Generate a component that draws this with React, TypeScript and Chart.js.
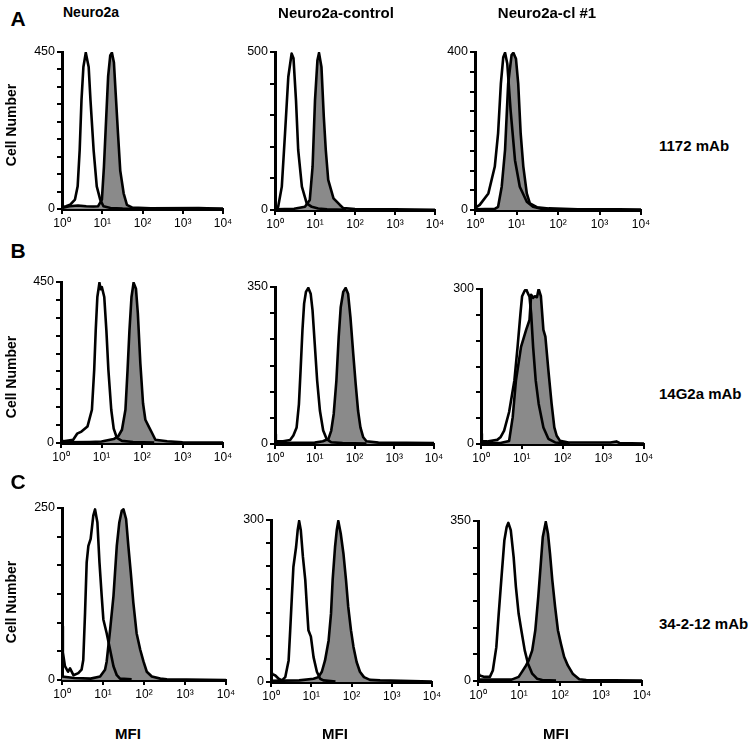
import React, { useEffect, useRef } from 'react';
import { Chart, registerables } from 'chart.js';

Chart.register(...registerables);

// ---------- text / categories ----------
const columnTitles = ['Neuro2a', 'Neuro2a-control', 'Neuro2a-cl #1'];
const rowLetters = ['A', 'B', 'C'];
const antibodyLabels = ['1172 mAb', '14G2a mAb', '34-2-12 mAb'];
const yAxisTitle = 'Cell Number';
const xAxisTitle = 'MFI';

// ---------- axis values ----------
const yMaxValues = [450, 500, 400, 450, 350, 300, 250, 300, 350];
const yTickIntervals = [9, 5, 8, 9, 6, 6, 6, 7, 6];
const xTickValues = [1, 10, 100, 1000, 10000];
const xTickLabels = ['10⁰', '10¹', '10²', '10³', '10⁴'];

// ---------- histogram data: [MFI, cell count] ----------
type Pt = [number, number];

const a1Open: Pt[] = [[1, 5], [1.26, 8], [1.58, 12], [2.1, 27], [2.45, 65], [2.75, 169], [3.05, 312], [3.4, 407], [3.9, 448], [4.6, 407], [5.1, 312], [6.1, 169], [7.3, 65], [8.9, 27], [10.7, 8], [16, 3], [32, 1], [100, 0]];
const a1Filled: Pt[] = [[1, 3], [1.5, 8], [2.5, 10], [4, 8], [6, 7], [7.9, 8], [9.8, 27], [11.0, 120], [12.4, 250], [14.0, 380], [15.8, 440], [17.4, 448], [19.5, 420], [21.6, 330], [24.5, 220], [28, 110], [34, 45], [41, 12], [56, 4], [160, 2], [2500, 3], [4000, 2], [10000, 1]];

const a2Open: Pt[] = [[1, 3], [1.2, 10], [1.48, 74], [1.78, 242], [2.15, 421], [2.6, 495], [2.9, 480], [3.35, 347], [3.8, 190], [4.7, 74], [6.2, 21], [8.3, 10], [12, 5], [20, 2], [60, 1]];
const a2Filled: Pt[] = [[1, 2], [3, 4], [5.6, 10], [7.4, 32], [8.7, 137], [10, 347], [11.5, 474], [12.6, 497], [14.5, 453], [16.6, 295], [18.6, 190], [21.4, 95], [29, 37], [42, 16], [51, 6], [100, 3], [1000, 2], [10000, 1]];

const a3Open: Pt[] = [[1, 5], [1.3, 13], [2.1, 42], [3.0, 110], [3.6, 194], [4.2, 320], [4.8, 387], [5.3, 398], [6.0, 370], [7.2, 253], [9.2, 126], [12, 59], [17.7, 21], [25, 8], [40, 3], [100, 1]];
const a3Filled: Pt[] = [[1, 2], [3, 3], [3.6, 8], [4.4, 59], [5.3, 152], [6.3, 320], [7.6, 392], [8.4, 398], [9.7, 383], [11, 320], [12.6, 194], [14.6, 110], [17.7, 42], [21, 17], [31, 7], [60, 4], [300, 2], [3000, 2], [10000, 1]];

const b1Open: Pt[] = [[1, 8], [1.15, 5], [2.0, 9], [2.5, 26], [3.2, 32], [4.5, 46], [5.8, 93], [6.6, 204], [7.2, 315], [7.9, 408], [8.9, 448], [9.5, 430], [10.2, 436], [11.7, 408], [13.2, 315], [14.8, 204], [17.4, 93], [20, 40], [24, 14], [32, 6], [60, 3], [200, 1]];
const b1Filled: Pt[] = [[1, 2], [5, 3], [10, 4], [20, 11], [26, 19], [32, 37], [39, 93], [44, 204], [49, 315], [55, 408], [62, 448], [71, 431], [79, 362], [91, 223], [106, 111], [121, 65], [147, 46], [177, 28], [214, 9], [417, 5], [1000, 2], [10000, 1]];

const b2Open: Pt[] = [[1, 22], [1.05, 6], [1.6, 6], [2.4, 9], [2.9, 19], [3.5, 37], [4.0, 89], [4.4, 164], [4.9, 253], [5.4, 313], [6.0, 339], [6.9, 348], [7.9, 335], [8.8, 298], [10, 223], [11.5, 141], [13.5, 74], [16.3, 30], [19.9, 11], [26, 4], [50, 2], [200, 1]];
const b2Filled: Pt[] = [[1, 2], [10, 3], [16, 6], [22, 11], [26, 30], [30, 67], [35, 141], [40, 238], [45, 305], [52, 339], [60, 348], [69, 335], [79, 283], [93, 201], [107, 134], [123, 74], [141, 37], [166, 15], [200, 6], [400, 3], [10000, 2]];

const b3Open: Pt[] = [[1, 20], [1.05, 5], [1.4, 5], [2.5, 8], [3.0, 13], [3.7, 26], [4.9, 62], [6.6, 123], [7.9, 188], [9.3, 253], [10.2, 286], [11.7, 296], [12.8, 300], [14.1, 292], [15.5, 285], [17, 253], [19, 188], [22, 123], [26, 78], [34, 32], [45, 10], [66, 3], [150, 1]];
const b3Filled: Pt[] = [[1, 2], [3, 2], [4.9, 6], [6.0, 52], [7.2, 123], [9.6, 188], [12.8, 221], [15.5, 240], [17, 289], [19, 283], [21, 286], [23.6, 284], [26, 300], [29.5, 286], [34, 221], [38, 208], [45, 143], [54, 78], [63, 32], [72, 16], [87, 6], [141, 3], [1500, 3], [2100, 5], [2500, 2], [10000, 1]];

const c1Open: Pt[] = [[1, 78], [1.05, 40], [1.18, 20], [1.4, 12], [1.57, 17], [1.9, 7], [2.5, 10], [3.0, 15], [3.3, 29], [3.65, 98], [4.0, 171], [4.4, 195], [5.0, 205], [5.8, 239], [6.4, 248], [7.3, 229], [8.2, 171], [9.3, 122], [10.2, 88], [12.3, 68], [14.9, 44], [18, 20], [21.7, 7], [26, 2], [50, 1]];
const c1Filled: Pt[] = [[1, 5], [2, 3], [5, 2], [8.5, 5], [11.2, 15], [12.3, 27], [14.9, 73], [18, 122], [21.7, 195], [25, 229], [28.7, 246], [31.6, 248], [36.6, 234], [41.5, 195], [47.6, 156], [55, 112], [66, 68], [81, 44], [97, 27], [117, 12], [155, 5], [250, 2], [360, 1], [10000, 0]];

const c2Open: Pt[] = [[1, 30], [1.06, 15], [1.28, 12], [1.55, 6], [1.87, 3], [2.26, 9], [2.74, 40], [3.0, 96], [3.3, 158], [3.6, 213], [4.2, 250], [4.6, 281], [5.0, 298], [5.5, 281], [6.2, 232], [7.1, 189], [7.8, 139], [8.5, 96], [9.8, 84], [11.4, 46], [13.8, 19], [16.6, 6], [20, 3], [40, 1]];
const c2Filled: Pt[] = [[1, 2], [5, 3], [11.4, 6], [15, 9], [18.3, 19], [22, 40], [27, 77], [31, 127], [34, 189], [39, 250], [43, 281], [47, 298], [54, 275], [63, 238], [73, 189], [83, 139], [97, 96], [112, 65], [134, 37], [162, 19], [204, 9], [288, 4], [513, 3], [10000, 1]];

const c3Open: Pt[] = [[1, 20], [1.1, 12], [1.45, 9], [1.95, 9], [2.3, 23], [2.8, 74], [3.2, 147], [3.8, 235], [4.4, 308], [5.0, 337], [5.5, 346], [6.3, 330], [7.4, 271], [8.4, 206], [9.8, 147], [11.4, 111], [13.8, 67], [16.6, 38], [21, 16], [27.5, 5], [37, 2], [80, 1]];
const c3Filled: Pt[] = [[1, 3], [4, 3], [6.6, 3], [9.8, 9], [11.8, 20], [14.2, 31], [17.3, 45], [21, 67], [25, 111], [29.5, 184], [34, 257], [38, 315], [45, 348], [51, 322], [57, 279], [65, 220], [76, 162], [89, 111], [105, 82], [126, 53], [155, 34], [204, 16], [295, 4], [436, 2], [10000, 1]];

const openSeries: Pt[][] = [a1Open, a2Open, a3Open, b1Open, b2Open, b3Open, c1Open, c2Open, c3Open];
const filledSeries: Pt[][] = [a1Filled, a2Filled, a3Filled, b1Filled, b2Filled, b3Filled, c1Filled, c2Filled, c3Filled];

// ---------- layout (page pixels of each plot area) ----------
const panelBoxes = [
  { l: 62, t: 52, r: 223, b: 209 },
  { l: 275, t: 52, r: 435, b: 210 },
  { l: 475, t: 52, r: 641, b: 210 },
  { l: 61, t: 282, r: 223, b: 443 },
  { l: 275, t: 287, r: 434, b: 444 },
  { l: 481, t: 289, r: 644, b: 444 },
  { l: 62, t: 508, r: 226, b: 680 },
  { l: 271, t: 520, r: 432, b: 682 },
  { l: 478, t: 521, r: 642, b: 681 },
];

const FONT = '"Liberation Sans", Arial, Helvetica, sans-serif';
const Y_AXIS_W = 40;
const X_AXIS_H = 27;
const PAD_T = 10;
const PAD_R = 14;

function Panel({ idx }: { idx: number }) {
  const ref = useRef<HTMLCanvasElement>(null);
  const box = panelBoxes[idx];
  const w = box.r - box.l + Y_AXIS_W + PAD_R;
  const h = box.b - box.t + PAD_T + X_AXIS_H;

  useEffect(() => {
    const yMax = yMaxValues[idx];
    const n = yTickIntervals[idx];
    const chart = new Chart(ref.current as HTMLCanvasElement, {
      type: 'line',
      data: {
        datasets: [
          {
            data: openSeries[idx].map(([x, y]) => ({ x, y })),
            borderColor: '#000',
            borderWidth: 2.6,
            borderJoinStyle: 'round',
            pointRadius: 0,
            fill: false,
            tension: 0,
          },
          {
            data: filledSeries[idx].map(([x, y]) => ({ x, y })),
            borderColor: '#000',
            borderWidth: 2.6,
            borderJoinStyle: 'round',
            backgroundColor: '#8a8a8a',
            pointRadius: 0,
            fill: 'origin',
            tension: 0,
          },
        ],
      },
      options: {
        responsive: false,
        animation: false,
        devicePixelRatio: 1,
        layout: { padding: { top: PAD_T, right: PAD_R, left: 0, bottom: 0 } },
        plugins: { legend: { display: false }, tooltip: { enabled: false } },
        scales: {
          x: {
            type: 'logarithmic',
            min: 1,
            max: 10000,
            afterBuildTicks: (s: any) => {
              s.ticks = xTickValues.map((v) => ({ value: v }));
            },
            afterFit: (s: any) => {
              s.height = X_AXIS_H;
            },
            ticks: {
              autoSkip: false,
              maxRotation: 0,
              padding: 2,
              color: '#000',
              font: { family: FONT, size: 12 },
              callback: (v: any) => {
                const i = xTickValues.indexOf(Number(v));
                return i >= 0 ? xTickLabels[i] : '';
              },
            },
            grid: { drawOnChartArea: false, drawTicks: true, tickLength: 5, color: '#000', lineWidth: 2 },
            border: { display: true, color: '#000', width: 3 },
          },
          y: {
            type: 'linear',
            min: 0,
            max: yMax,
            afterBuildTicks: (s: any) => {
              const arr = [];
              for (let i = 0; i <= n; i++) arr.push({ value: (yMax * i) / n });
              s.ticks = arr;
            },
            afterFit: (s: any) => {
              s.width = Y_AXIS_W;
            },
            ticks: {
              autoSkip: false,
              padding: 2,
              color: '#000',
              font: { family: FONT, size: 12.5 },
              callback: (v: any) => (Number(v) === 0 || Math.abs(Number(v) - yMax) < 1e-6 ? String(v) : ''),
            },
            grid: { drawOnChartArea: false, drawTicks: true, tickLength: 5, color: '#000', lineWidth: 2 },
            border: { display: true, color: '#000', width: 3 },
          },
        },
      } as any,
    });
    return () => chart.destroy();
  }, [idx]);

  return (
    <canvas
      ref={ref}
      width={w}
      height={h}
      style={{ position: 'absolute', left: box.l - Y_AXIS_W, top: box.t - PAD_T, width: w, height: h }}
    />
  );
}

function Label({ x, y, text, size, align = 'center', rotate = false }: { x: number; y: number; text: string; size: number; align?: 'center' | 'left'; rotate?: boolean }) {
  const tx = align === 'center' ? '-50%' : '0';
  return (
    <div
      style={{
        position: 'absolute',
        left: x,
        top: y,
        transform: `translate(${tx}, -50%)${rotate ? ' rotate(-90deg)' : ''}`,
        transformOrigin: 'center center',
        fontFamily: FONT,
        fontWeight: 'bold',
        fontSize: size,
        lineHeight: 1,
        whiteSpace: 'nowrap',
        color: '#000',
      }}
    >
      {text}
    </div>
  );
}

const letterY = [18, 250, 481];
const titleX = [91, 336, 547];
const titleSize = [14, 15, 15];
const antibodyY = [145, 393, 623];
const cellNumberY = [125, 377, 602];
const mfiX = [128, 335, 556];

export default function App() {
  return (
    <div style={{ position: 'absolute', left: 0, top: 0, width: 754, height: 743, background: '#fff', overflow: 'hidden' }}>
      {panelBoxes.map((_, i) => (
        <Panel key={i} idx={i} />
      ))}
      {rowLetters.map((t, i) => (
        <Label key={'l' + t} x={18} y={letterY[i]} text={t} size={21} />
      ))}
      {columnTitles.map((t, i) => (
        <Label key={'c' + t} x={titleX[i]} y={12} text={t} size={titleSize[i]} />
      ))}
      {antibodyLabels.map((t, i) => (
        <Label key={'a' + t} x={659} y={antibodyY[i]} text={t} size={15} align="left" />
      ))}
      {cellNumberY.map((y, i) => (
        <Label key={'y' + i} x={11} y={y} text={yAxisTitle} size={14} rotate />
      ))}
      {mfiX.map((x, i) => (
        <Label key={'m' + i} x={x} y={733} text={xAxisTitle} size={15} />
      ))}
    </div>
  );
}
